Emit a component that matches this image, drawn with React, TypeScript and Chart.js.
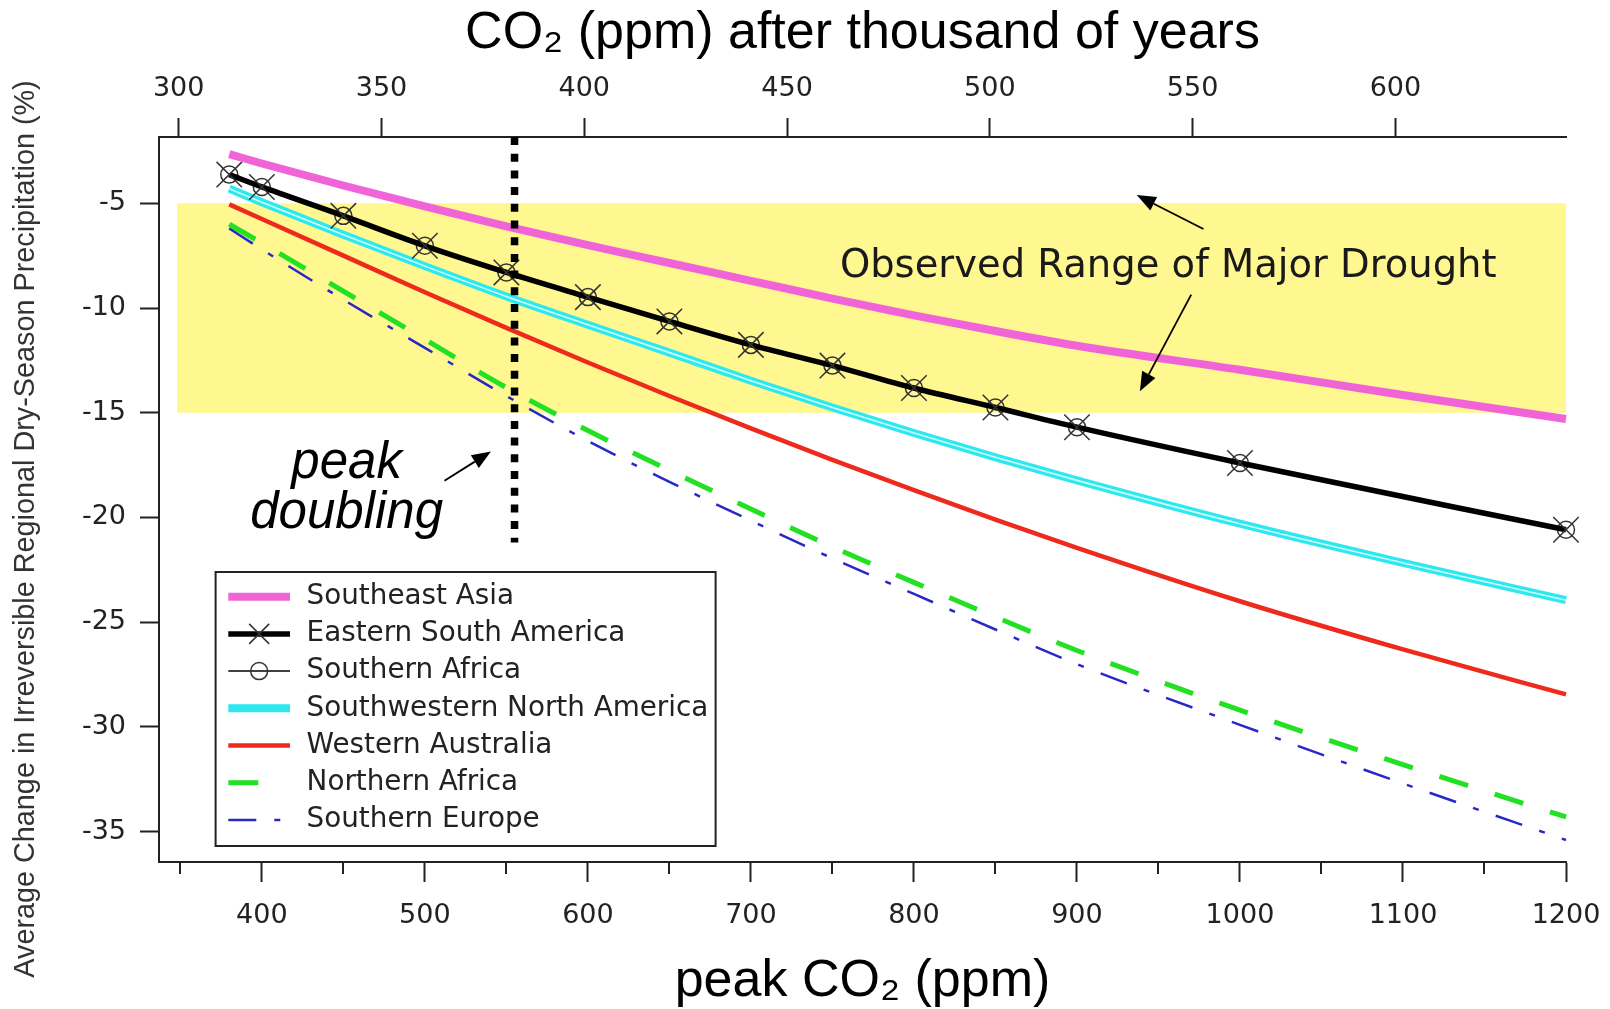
import React, { useEffect, useRef } from "react";
import { Chart, registerables } from "chart.js";

Chart.register(...registerables);

// ---------------- data ----------------
const PEAK_CO2 = [380, 400, 450, 500, 550, 600, 650, 700, 750, 800, 850, 900, 1000, 1100, 1200];
const PEAK_CO2_MARKED = [380, 400, 450, 500, 550, 600, 650, 700, 750, 800, 850, 900, 1000, 1200];

const SOUTHEAST_ASIA = [-2.65, -3.1, -4.15, -5.15, -6.1, -7.0, -7.85, -8.7, -9.55, -10.35, -11.1, -11.8, -12.95, -14.15, -15.3];
const EASTERN_SOUTH_AMERICA = [-3.63, -4.22, -5.6, -7.03, -8.3, -9.48, -10.64, -11.76, -12.75, -13.82, -14.75, -15.69, -17.4, -20.59];
const SOUTHERN_AFRICA = [-3.63, -4.22, -5.6, -7.03, -8.3, -9.48, -10.64, -11.76, -12.75, -13.82, -14.75, -15.69, -17.4, -20.59];
const SW_NORTH_AMERICA = [-4.3, -4.95, -6.5, -8.0, -9.45, -10.8, -12.13, -13.47, -14.75, -15.97, -17.13, -18.23, -20.3, -22.17, -23.95];
const WESTERN_AUSTRALIA = [-5.05, -5.75, -7.5, -9.25, -10.95, -12.6, -14.2, -15.75, -17.25, -18.7, -20.1, -21.45, -24.0, -26.3, -28.45];
const NORTHERN_AFRICA = [-6.0, -6.9, -9.2, -11.5, -13.8, -15.85, -17.75, -19.6, -21.4, -23.1, -24.75, -26.35, -29.2, -31.8, -34.3];
const SOUTHERN_EUROPE = [-6.2, -7.2, -9.6, -11.9, -14.2, -16.35, -18.3, -20.15, -21.95, -23.65, -25.35, -27.0, -29.9, -32.7, -35.4];

const BOTTOM_TICKS = [350, 400, 450, 500, 550, 600, 650, 700, 750, 800, 850, 900, 950, 1000, 1050, 1100, 1150, 1200];
const TOP_TICKS = [300, 350, 400, 450, 500, 550, 600];
const Y_TICKS = [-35, -30, -25, -20, -15, -10, -5];

const DROUGHT_RANGE_Y = [-15, -5];
const DROUGHT_RANGE_X = [348, 1200];
const PEAK_DOUBLING_X = 555;
const PEAK_DOUBLING_LINE_END = -21.2;

// annotation anchors (data coordinates)
const PEAK_TEXT_X = 452;
const PEAK_TEXT_LINES_Y = [-18.13, -20.52];
const PEAK_ARROW = [[512, -18.25], [540.5, -16.85]];
const DROUGHT_TEXT = [956, -8.53];
const DROUGHT_ARROW_UP = [[977.6, -6.23], [936.7, -4.61]];
const DROUGHT_ARROW_DOWN = [[970.1, -9.36], [938.6, -13.97]];

const Y_TITLE = "Average Change in Irreversible Regional Dry-Season Precipitation (%)";

const TICK_FONT = { family: "'DejaVu Sans', sans-serif", size: 27 };
const AXIS_COLOR = "#222";

function pts(xs: number[], ys: number[]) {
  return xs.map((x, i) => ({ x, y: ys[i] }));
}

function drawArrow(ctx: CanvasRenderingContext2D, x0: number, y0: number, x1: number, y1: number) {
  const ang = Math.atan2(y1 - y0, x1 - x0);
  const hl = 19, hw = 7.5;
  const bx = x1 - Math.cos(ang) * hl, by = y1 - Math.sin(ang) * hl;
  ctx.beginPath();
  ctx.moveTo(x0, y0);
  ctx.lineTo(bx, by);
  ctx.stroke();
  ctx.beginPath();
  ctx.moveTo(x1, y1);
  ctx.lineTo(bx + Math.sin(ang) * hw, by - Math.cos(ang) * hw);
  ctx.lineTo(bx - Math.sin(ang) * hw, by + Math.cos(ang) * hw);
  ctx.closePath();
  ctx.fill();
}

const annotatePlugin = {
  id: "annotate",
  beforeDatasetsDraw(chart: any) {
    const { ctx, scales } = chart;
    const x = scales.x, y = scales.y;
    const l = x.getPixelForValue(DROUGHT_RANGE_X[0]);
    const r = x.getPixelForValue(DROUGHT_RANGE_X[1]);
    const t = y.getPixelForValue(DROUGHT_RANGE_Y[1]);
    const b = y.getPixelForValue(DROUGHT_RANGE_Y[0]);
    ctx.save();
    ctx.fillStyle = "#fff78f";
    ctx.fillRect(l, t, r - l, b - t);
    ctx.restore();
  },
  afterDatasetDraw(chart: any, args: any) {
    if (args.index !== 3) return;
    const { ctx } = chart;
    const meta = args.meta;
    ctx.save();
    ctx.strokeStyle = "rgba(215,255,255,0.95)";
    ctx.lineWidth = 1.6;
    ctx.beginPath();
    const line = meta.dataset;
    if (line && typeof line.path === "function") {
      line.path(ctx);
    } else {
      meta.data.forEach((p: any, i: number) => (i ? ctx.lineTo(p.x, p.y) : ctx.moveTo(p.x, p.y)));
    }
    ctx.stroke();
    ctx.restore();
  },
  afterDatasetsDraw(chart: any) {
    const { ctx, scales, chartArea } = chart;
    const x = scales.x, y = scales.y;
    ctx.save();
    // peak doubling dotted line
    const px = x.getPixelForValue(PEAK_DOUBLING_X);
    ctx.strokeStyle = "#000";
    ctx.lineWidth = 7.5;
    ctx.setLineDash([8, 8.7]);
    ctx.beginPath();
    ctx.moveTo(px, chartArea.top);
    ctx.lineTo(px, y.getPixelForValue(PEAK_DOUBLING_LINE_END));
    ctx.stroke();
    ctx.setLineDash([]);

    // peak doubling text
    ctx.fillStyle = "#000";
    ctx.font = "italic 51px 'Liberation Sans', Arial, sans-serif";
    ctx.textAlign = "center";
    ctx.textBaseline = "alphabetic";
    ctx.fillText("peak", x.getPixelForValue(PEAK_TEXT_X), y.getPixelForValue(PEAK_TEXT_LINES_Y[0]));
    ctx.fillText("doubling", x.getPixelForValue(PEAK_TEXT_X), y.getPixelForValue(PEAK_TEXT_LINES_Y[1]));

    ctx.lineWidth = 1.8;
    ctx.strokeStyle = "#000";
    const arrows = [PEAK_ARROW, DROUGHT_ARROW_UP, DROUGHT_ARROW_DOWN];
    arrows.forEach((a) => {
      drawArrow(ctx, x.getPixelForValue(a[0][0]), y.getPixelForValue(a[0][1]), x.getPixelForValue(a[1][0]), y.getPixelForValue(a[1][1]));
    });

    // observed range text
    ctx.fillStyle = "#1a1a1a";
    ctx.font = "38.5px 'DejaVu Sans', sans-serif";
    ctx.textAlign = "center";
    ctx.fillText("Observed Range of Major Drought", x.getPixelForValue(DROUGHT_TEXT[0]), y.getPixelForValue(DROUGHT_TEXT[1]));

    // legend
    const bx = chartArea.left + 56.6, by = chartArea.top + 435, bw = 500, bh = 274;
    ctx.fillStyle = "#fff";
    ctx.fillRect(bx, by, bw, bh);
    ctx.strokeStyle = "#222";
    ctx.lineWidth = 2;
    ctx.strokeRect(bx, by, bw, bh);
    chart.data.datasets.forEach((ds: any, i: number) => {
      const cy = by + 24.7 + i * 37.2;
      const x0 = bx + 12.7;
      const x1 = ds.borderDash ? bx + 12.7 + 57 : bx + 74.4;
      const cx = bx + (12.7 + 74.4) / 2;
      ctx.save();
      ctx.strokeStyle = ds.borderColor;
      ctx.lineWidth = ds.borderWidth;
      ctx.setLineDash(ds.borderDash || []);
      ctx.beginPath();
      ctx.moveTo(x0, cy);
      ctx.lineTo(x1, cy);
      ctx.stroke();
      ctx.setLineDash([]);
      if (ds.pointStyle === "crossRot") {
        const d = 10;
        ctx.strokeStyle = ds.pointBorderColor;
        ctx.lineWidth = ds.pointBorderWidth;
        ctx.beginPath();
        ctx.moveTo(cx - d, cy - d);
        ctx.lineTo(cx + d, cy + d);
        ctx.moveTo(cx - d, cy + d);
        ctx.lineTo(cx + d, cy - d);
        ctx.stroke();
      } else if (ds.pointStyle === "circle" && ds.pointRadius > 0) {
        ctx.strokeStyle = ds.pointBorderColor;
        ctx.lineWidth = ds.pointBorderWidth;
        ctx.beginPath();
        ctx.arc(cx, cy, ds.pointRadius, 0, Math.PI * 2);
        ctx.stroke();
      }
      ctx.fillStyle = "#222";
      ctx.font = "27.8px 'DejaVu Sans', sans-serif";
      ctx.textAlign = "left";
      ctx.textBaseline = "middle";
      ctx.fillText(ds.label, bx + 91, cy);
      ctx.restore();
    });
    ctx.restore();
  },
  afterDraw(chart: any) {
    const { ctx, scales, chartArea } = chart;
    const x = scales.x;
    ctx.save();
    ctx.strokeStyle = AXIS_COLOR;
    ctx.lineWidth = 2;
    BOTTOM_TICKS.filter((v) => v % 100 !== 0).forEach((v) => {
      const p = Math.round(x.getPixelForValue(v));
      ctx.beginPath();
      ctx.moveTo(p, chartArea.bottom);
      ctx.lineTo(p, chartArea.bottom + 12);
      ctx.stroke();
    });
    // y-axis title
    ctx.translate(26, 529);
    ctx.rotate(-Math.PI / 2);
    ctx.fillStyle = "#333";
    ctx.font = "28.8px 'Liberation Sans', Arial, sans-serif";
    ctx.textAlign = "center";
    ctx.textBaseline = "middle";
    ctx.fillText(Y_TITLE, 0, 0);
    ctx.restore();
  },
};

export default function App() {
  const ref = useRef<HTMLCanvasElement | null>(null);

  useEffect(() => {
    document.body.style.margin = "0";
    const canvas = ref.current;
    if (!canvas) return;

    const datasets: any[] = [
      {
        label: "Southeast Asia",
        data: pts(PEAK_CO2, SOUTHEAST_ASIA),
        borderColor: "#f064d7",
        borderWidth: 8,
        pointRadius: 0,
        pointStyle: false,
      },
      {
        label: "Eastern South America",
        data: pts(PEAK_CO2_MARKED, EASTERN_SOUTH_AMERICA),
        borderColor: "#000",
        borderWidth: 5.5,
        pointStyle: "crossRot",
        pointRadius: 18,
        pointBorderColor: "#333",
        pointBorderWidth: 1.5,
        pointBackgroundColor: "rgba(0,0,0,0)",
      },
      {
        label: "Southern Africa",
        data: pts(PEAK_CO2_MARKED, SOUTHERN_AFRICA),
        borderColor: "#000",
        borderWidth: 1.5,
        pointStyle: "circle",
        pointRadius: 8.5,
        pointBorderColor: "#333",
        pointBorderWidth: 1.5,
        pointBackgroundColor: "rgba(0,0,0,0)",
      },
      {
        label: "Southwestern North America",
        data: pts(PEAK_CO2, SW_NORTH_AMERICA),
        borderColor: "#2ee8f0",
        borderWidth: 8,
        pointRadius: 0,
        pointStyle: false,
      },
      {
        label: "Western Australia",
        data: pts(PEAK_CO2, WESTERN_AUSTRALIA),
        borderColor: "#ee2a1c",
        borderWidth: 4.5,
        pointRadius: 0,
        pointStyle: false,
      },
      {
        label: "Northern Africa",
        data: pts(PEAK_CO2, NORTHERN_AFRICA),
        borderColor: "#22e022",
        borderWidth: 5,
        borderDash: [30, 28],
        pointRadius: 0,
        pointStyle: false,
      },
      {
        label: "Southern Europe",
        data: pts(PEAK_CO2, SOUTHERN_EUROPE),
        borderColor: "#2828c8",
        borderWidth: 2.5,
        borderDash: [28, 18, 6, 18],
        pointRadius: 0,
        pointStyle: false,
      },
    ];
    datasets.forEach((d) => {
      d.cubicInterpolationMode = "monotone";
      d.fill = false;
      d.clip = false;
    });

    const commonGrid = (len: number, colorFn?: any) => ({
      drawOnChartArea: false,
      drawTicks: true,
      tickLength: len,
      tickWidth: 2,
      tickColor: colorFn || AXIS_COLOR,
    });

    const chart = new Chart(canvas, {
      type: "line",
      data: { datasets },
      plugins: [annotatePlugin],
      options: {
        animation: false,
        responsive: false,
        devicePixelRatio: 1,
        layout: { padding: { left: 0, right: 44, top: 0, bottom: 0 } },
        plugins: { legend: { display: false }, tooltip: { enabled: false } },
        scales: {
          x: {
            type: "linear",
            position: "bottom",
            min: 336.9,
            max: 1200,
            afterBuildTicks: (s: any) => {
              s.ticks = BOTTOM_TICKS.map((v) => ({ value: v }));
            },
            afterFit: (s: any) => {
              s.height = 147;
              s.paddingLeft = 0;
              s.paddingRight = 0;
            },
            ticks: {
              autoSkip: false,
              maxRotation: 0,
              padding: 18,
              font: TICK_FONT,
              color: AXIS_COLOR,
              callback: (v: any) => (Number(v) % 100 === 0 ? String(v) : ""),
            },
            grid: commonGrid(20, (c: any) => (c.tick && c.tick.value % 100 === 0 ? AXIS_COLOR : "rgba(0,0,0,0)")),
            border: { display: true, color: AXIS_COLOR, width: 2 },
            title: {
              display: true,
              text: "peak CO₂ (ppm)",
              font: { family: "'Liberation Sans', Arial, sans-serif", size: 52, lineHeight: 1 },
              color: "#000",
              padding: { top: 0, bottom: 1 },
            },
          },
          x2: {
            type: "linear",
            position: "top",
            min: 295.14,
            max: 642.06,
            afterBuildTicks: (s: any) => {
              s.ticks = TOP_TICKS.map((v) => ({ value: v }));
            },
            afterFit: (s: any) => {
              s.height = 137;
              s.paddingLeft = 0;
              s.paddingRight = 0;
            },
            ticks: {
              autoSkip: false,
              maxRotation: 0,
              padding: 13,
              font: TICK_FONT,
              color: AXIS_COLOR,
              callback: (v: any) => String(v),
            },
            grid: commonGrid(19),
            border: { display: true, color: AXIS_COLOR, width: 2 },
            title: {
              display: true,
              text: "CO₂ (ppm) after thousand of years",
              font: { family: "'Liberation Sans', Arial, sans-serif", size: 52, lineHeight: 1 },
              color: "#000",
              padding: { top: 8, bottom: 0 },
            },
          },
          y: {
            type: "linear",
            position: "left",
            min: -36.45,
            max: -1.835,
            afterBuildTicks: (s: any) => {
              s.ticks = Y_TICKS.map((v) => ({ value: v }));
            },
            afterFit: (s: any) => {
              s.width = 159;
              s.paddingTop = 0;
              s.paddingBottom = 0;
            },
            ticks: {
              padding: 14,
              font: TICK_FONT,
              color: AXIS_COLOR,
              callback: (v: any) => String(v),
            },
            grid: commonGrid(19),
            border: { display: true, color: AXIS_COLOR, width: 2 },
            title: { display: false, text: Y_TITLE },
          },
        },
      } as any,
    });

    return () => chart.destroy();
  }, []);

  return (
    <div style={{ width: 1610, height: 1009 }}>
      <canvas ref={ref} width={1610} height={1009} style={{ width: 1610, height: 1009, display: "block" }} />
    </div>
  );
}
